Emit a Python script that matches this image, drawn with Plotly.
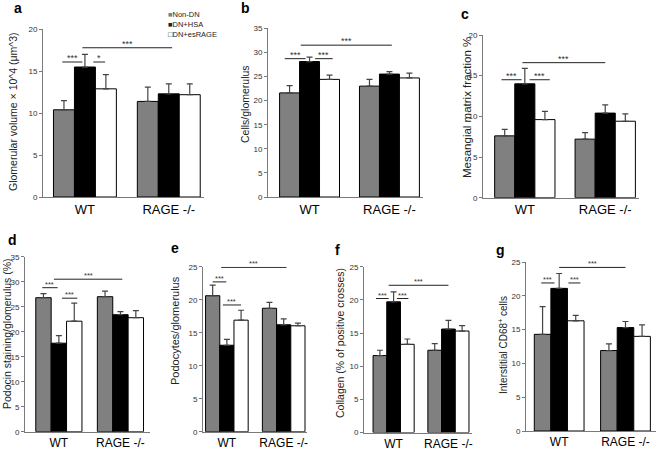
import plotly.graph_objects as go

groups = ["WT", "RAGE -/-"]
series = ["Non-DN", "DN+HSA", "DN+esRAGE"]

# means per series (WT, RAGE -/-) and the upper SD/SEM
a_means = [[10.4, 11.4], [15.5, 12.3], [12.9, 12.2]]
a_errs = [[1.1, 1.7], [1.5, 1.2], [1.7, 1.3]]
b_means = [[21.6, 23.0], [28.1, 25.5], [24.4, 24.7]]
b_errs = [[1.5, 1.4], [0.9, 0.5], [0.9, 1.0]]
c_means = [[7.6, 7.2], [14.0, 10.4], [9.6, 9.4]]
c_errs = [[0.8, 0.8], [1.9, 1.0], [1.0, 0.9]]
d_means = [[26.8, 27.0], [17.7, 23.4], [22.1, 22.8]]
d_errs = [[0.8, 1.1], [1.5, 0.6], [3.6, 1.4]]
e_means = [[20.6, 18.7], [13.1, 16.2], [16.9, 16.05]]
e_errs = [[1.6, 0.9], [0.9, 0.9], [1.5, 0.4]]
f_means = [[11.6, 12.4], [19.7, 15.6], [13.3, 15.3]]
f_errs = [[0.8, 1.0], [1.5, 1.3], [0.8, 0.8]]
g_means = [[14.3, 11.9], [21.1, 15.3], [16.3, 14.0]]
g_errs = [[4.1, 1.0], [2.2, 0.9], [0.8, 1.7]]

# significance levels (y value of each bracket)
a_sig = [16.1, 16.1, 17.8]
b_sig = [28.7, 28.7, 31.5]
c_sig = [14.5, 14.5, 16.6]
d_sig = [28.8, 26.7, 30.5]
e_sig = [22.7, 19.2, 24.9]
f_sig = [20.2, 20.2, 22.2]
g_sig = [21.9, 21.9, 24.2]
sig_labels_a = ["***", "*", "***"]
sig_labels = ["***", "***", "***"]

W, H = 660, 450
colors = ["#808080", "#000000", "#ffffff"]
FONT = "Arial, Liberation Sans, sans-serif"

# layout of each panel in pixels
panels = [
    dict(letter="a", means=a_means, errs=a_errs, sig=a_sig, labels=sig_labels_a,
         px=(43, 204), xr=(-0.5, 1.42), py=(197, 29.3), ymax=20,
         title="Glomerular volume × 10^4 (μm^3)", tpos=(13, 112), tsize=10.5,
         lpos=(18, 8), spans=[(-0.27, -0.03), (0.10, 0.24), (-0.03, 1.04)], ssize=9, xsize=13),
    dict(letter="b", means=b_means, errs=b_errs, sig=b_sig, labels=sig_labels,
         px=(268, 423), xr=(-0.52, 1.42), py=(197, 28.3), ymax=35,
         title="Cells/glomerulus", tpos=(245, 104), tsize=10.5,
         lpos=(245, 8), spans=[(-0.31, -0.05), (0.07, 0.29), (-0.11, 1.03)], ssize=9, xsize=13),
    dict(letter="c", means=c_means, errs=c_errs, sig=c_sig, labels=sig_labels,
         px=(483, 639), xr=(-0.52, 1.42), py=(197.7, 35), ymax=20,
         title="Mesangial matrix fraction %", tpos=(467, 107), tsize=11.5,
         lpos=(465, 14), spans=[(-0.29, -0.04), (0.06, 0.31), (-0.03, 1.0)], ssize=9, xsize=13),
    dict(letter="d", means=d_means, errs=d_errs, sig=d_sig, labels=sig_labels,
         px=(25, 150), xr=(-0.55, 1.48), py=(431.7, 256.7), ymax=35,
         title="Podocin staining/glomerulus (%)", tpos=(7, 334), tsize=10.5,
         lpos=(13, 240), spans=[(-0.27, -0.02), (0.05, 0.30), (-0.08, 1.03)], ssize=7.5, xsize=12),
    dict(letter="e", means=e_means, errs=e_errs, sig=e_sig, labels=sig_labels,
         px=(203, 307), xr=(-0.42, 1.41), py=(431.7, 266.7), ymax=25,
         title="Podocytes/glomerulus", tpos=(175, 331), tsize=11,
         lpos=(175, 248), spans=[(-0.25, -0.01), (-0.07, 0.25), (-0.1, 1.05)], ssize=7.5, xsize=12),
    dict(letter="f", means=f_means, errs=f_errs, sig=f_sig, labels=sig_labels,
         px=(364, 472), xr=(-0.54, 1.43), py=(432.5, 266.7), ymax=25,
         title="Collagen (% of positive crosses)", tpos=(340, 343), tsize=10.5,
         lpos=(337, 250), spans=[(-0.32, -0.09), (0.06, 0.27), (-0.09, 1.0)], ssize=7.5, xsize=12),
    dict(letter="g", means=g_means, errs=g_errs, sig=g_sig, labels=sig_labels,
         px=(526, 656), xr=(-0.5, 1.46), py=(431, 262), ymax=25,
         title="Interstitial CD68<sup>+</sup> cells", tpos=(503, 345), tsize=10,
         lpos=(500, 250), spans=[(-0.27, -0.07), (0.14, 0.32), (0.0, 1.0)], ssize=7.5, xsize=12),
]

fig = go.Figure()
shapes, annotations = [], []
layout = {}

for i, p in enumerate(panels):
    n = "" if i == 0 else str(i + 1)
    xa, ya = "x" + n, "y" + n
    for s, name in enumerate(series):
        fig.add_trace(go.Bar(
            x=groups, y=p["means"][s], name=name, xaxis=xa, yaxis=ya,
            marker=dict(color=colors[s], line=dict(color="black", width=1)),
            error_y=dict(type="data", array=p["errs"][s], arrayminus=[0, 0],
                         symmetric=False, color="#444", thickness=1.2, width=3),
            showlegend=False, offsetgroup=str(s), hoverinfo="skip",
        ))
    layout["xaxis" + n] = dict(
        domain=[p["px"][0] / W, p["px"][1] / W], range=list(p["xr"]), anchor=ya,
        showline=True, linecolor="#7a7a7a", linewidth=1, ticks="", showgrid=False,
        tickfont=dict(size=p["xsize"], color="black", family=FONT), automargin=False,
    )
    layout["yaxis" + n] = dict(
        domain=[1 - p["py"][0] / H, 1 - p["py"][1] / H], range=[0, p["ymax"]],
        anchor=xa, dtick=5, showline=True, linecolor="#7a7a7a", linewidth=1,
        ticks="outside", ticklen=3, tickcolor="#7a7a7a", showgrid=False, zeroline=False,
        tickfont=dict(size=8, color="#333", family=FONT), automargin=False,
    )
    for (x0, x1), yv, lab in zip(p["spans"], p["sig"], p["labels"]):
        shapes.append(dict(type="line", xref=xa, yref=ya, x0=x0, x1=x1, y0=yv, y1=yv,
                           line=dict(color="#222", width=1)))
        annotations.append(dict(x=(x0 + x1) / 2, y=yv, xref=xa, yref=ya, text=lab,
                                showarrow=False, xanchor="center", yanchor="bottom", yshift=-3,
                                font=dict(size=p["ssize"], color="#333", family=FONT)))
    annotations.append(dict(x=p["tpos"][0] / W, y=1 - p["tpos"][1] / H, xref="paper",
                            yref="paper", text=p["title"], textangle=-90, showarrow=False,
                            xanchor="center", yanchor="middle",
                            font=dict(size=p["tsize"], color="#222", family=FONT)))
    annotations.append(dict(x=p["lpos"][0] / W, y=1 - p["lpos"][1] / H, xref="paper",
                            yref="paper", text="<b>" + p["letter"] + "</b>", showarrow=False,
                            xanchor="center", yanchor="middle",
                            font=dict(size=14, color="black", family=FONT)))

# legend of panel a
legend_marks = ["<span style='color:#808080'>■</span>", "■", "□"]
legend_text = "<br>".join(m + name for m, name in zip(legend_marks, series))
annotations.append(dict(x=166 / W, y=1 - 8 / H, xref="paper", yref="paper",
                        text=legend_text, showarrow=False, xanchor="left", yanchor="top",
                        align="left", font=dict(size=7.5, color="#222", family=FONT)))

fig.update_layout(
    width=W, height=H, margin=dict(l=0, r=0, t=0, b=0),
    plot_bgcolor="white", paper_bgcolor="white",
    barmode="group", bargap=0.25, bargroupgap=0,
    shapes=shapes, annotations=annotations,
    font=dict(family=FONT), hovermode=False,
    **layout,
)

# the page's default body margin would push the figure 8px off
fig.write_html("out.html", config={"displayModeBar": False},
               post_script="document.body.style.margin='0';")
